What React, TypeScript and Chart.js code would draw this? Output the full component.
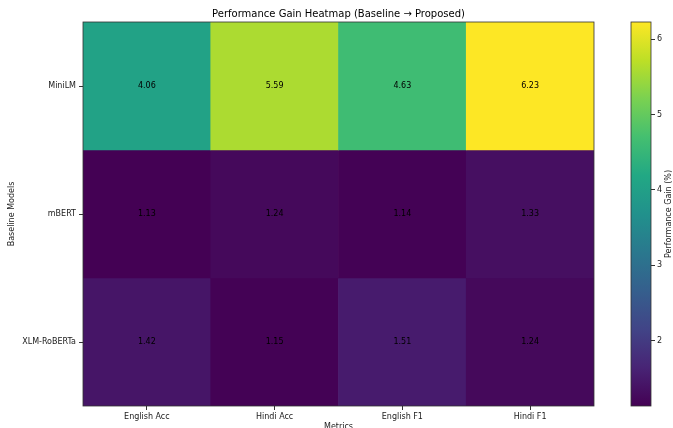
import React, { useEffect, useRef } from "react";
import { Chart, registerables } from "chart.js";

Chart.register(...registerables);

// Heatmap data: performance gain (%) per baseline model and metric
const metrics = ["English Acc", "Hindi Acc", "English F1", "Hindi F1"];
const models = ["MiniLM", "mBERT", "XLM-RoBERTa"];
const miniLMGain = [4.06, 5.59, 4.63, 6.23];
const mbertGain = [1.13, 1.24, 1.14, 1.33];
const xlmrGain = [1.42, 1.15, 1.51, 1.24];
const colorbarTicks = [2, 3, 4, 5, 6];

const gainRows = [miniLMGain, mbertGain, xlmrGain];
const allGains = gainRows.flat();
const vMin = Math.min(...allGains);
const vMax = Math.max(...allGains);

const FONT = "'DejaVu Sans', sans-serif";
const TEXT = "#1a1a1a";
const AXIS = "#333333";

// viridis colormap, 11 evenly spaced stops
const VIRIDIS = [
  "#440154", "#482475", "#414487", "#355f8d", "#2a788e", "#21918c",
  "#22a884", "#44bf70", "#7ad151", "#bddf26", "#fde725",
];

function hexToRgb(h: string): number[] {
  return [1, 3, 5].map((i) => parseInt(h.slice(i, i + 2), 16));
}

function viridis(t: number): string {
  const c = Math.max(0, Math.min(1, t)) * (VIRIDIS.length - 1);
  const i = Math.min(Math.floor(c), VIRIDIS.length - 2);
  const f = c - i;
  const a = hexToRgb(VIRIDIS[i]);
  const b = hexToRgb(VIRIDIS[i + 1]);
  const rgb = a.map((v, k) => Math.round(v + (b[k] - v) * f));
  return `rgb(${rgb[0]},${rgb[1]},${rgb[2]})`;
}

const colorOf = (v: number) => viridis((v - vMin) / (vMax - vMin));

// Outline around the plotting area
const framePlugin = {
  id: "frame",
  afterDatasetsDraw(chart: any) {
    const { ctx, chartArea: a } = chart;
    ctx.save();
    ctx.strokeStyle = AXIS;
    ctx.lineWidth = 0.8;
    ctx.strokeRect(a.left, a.top, a.right - a.left, a.bottom - a.top);
    ctx.restore();
  },
};

// Value text in the middle of each cell
const cellLabelPlugin = {
  id: "cellLabels",
  afterDatasetsDraw(chart: any) {
    const { ctx } = chart;
    ctx.save();
    ctx.font = `8px ${FONT}`;
    ctx.fillStyle = "#000";
    ctx.textAlign = "center";
    ctx.textBaseline = "middle";
    chart.data.datasets.forEach((ds: any, di: number) => {
      const meta = chart.getDatasetMeta(di);
      meta.data.forEach((el: any, i: number) => {
        const { x, y, base } = el.getProps(["x", "y", "base"], true);
        ctx.fillText(ds.gains[i].toFixed(2), x, (y + base) / 2);
      });
    });
    ctx.restore();
  },
};

// Colorbar label, rotated to read bottom-to-top
const colorbarLabelPlugin = {
  id: "cbLabel",
  afterDraw(chart: any) {
    const { ctx, chartArea: a } = chart;
    ctx.save();
    ctx.font = `8px ${FONT}`;
    ctx.fillStyle = TEXT;
    ctx.textAlign = "center";
    ctx.textBaseline = "middle";
    ctx.translate(68.5, (a.top + a.bottom) / 2);
    ctx.rotate(-Math.PI / 2);
    ctx.fillText("Performance Gain (%)", 0, 0);
    ctx.restore();
  },
};

const tickFont = { family: FONT, size: 8 };

export default function App() {
  const mainRef = useRef<HTMLCanvasElement>(null);
  const cbRef = useRef<HTMLCanvasElement>(null);

  useEffect(() => {
    const main = new Chart(mainRef.current as HTMLCanvasElement, {
      type: "bar",
      data: {
        labels: metrics,
        datasets: gainRows.map((row, r) => ({
          label: models[r],
          data: row.map(() => [r, r + 1]),
          gains: row,
          backgroundColor: row.map(colorOf),
          borderWidth: 0,
          barPercentage: 1,
          categoryPercentage: 1,
          grouped: false,
        })) as any,
      },
      options: {
        responsive: false,
        animation: false,
        events: [],
        layout: { padding: { top: 0, right: 79, bottom: 0, left: 0 } },
        plugins: {
          legend: { display: false },
          tooltip: { enabled: false },
          title: {
            display: true,
            text: "Performance Gain Heatmap (Baseline \u2192 Proposed)",
            font: { family: FONT, size: 10, weight: "normal" },
            color: "#000",
            padding: { top: 8, bottom: 2 },
            fullSize: false,
          } as any,
        },
        scales: {
          x: {
            type: "category",
            offset: true,
            grid: {
              offset: false,
              drawOnChartArea: false,
              drawTicks: true,
              tickLength: 4,
              color: AXIS,
            },
            border: { display: false },
            ticks: { font: tickFont, color: TEXT, padding: 2, maxRotation: 0, autoSkip: false },
            title: {
              display: true,
              text: "Metrics",
              font: tickFont,
              color: TEXT,
              padding: { top: 0, bottom: -4 },
            },
            afterFit(s: any) {
              s.height = 22;
            },
          },
          y: {
            type: "linear",
            min: 0,
            max: 3,
            reverse: true,
            afterBuildTicks(s: any) {
              s.ticks = models.map((_, i) => ({ value: i + 0.5 }));
            },
            grid: {
              drawOnChartArea: false,
              drawTicks: true,
              tickLength: 4,
              color: AXIS,
            },
            border: { display: false },
            ticks: {
              font: tickFont,
              color: TEXT,
              padding: 3,
              callback: (_v: any, i: number) => models[i],
            },
            title: {
              display: true,
              text: "Baseline Models",
              font: tickFont,
              color: TEXT,
              padding: { top: 7, bottom: 0 },
            },
            afterFit(s: any) {
              s.width = 83;
            },
          },
        },
      } as any,
      plugins: [framePlugin, cellLabelPlugin],
    });

    const cb = new Chart(cbRef.current as HTMLCanvasElement, {
      type: "bar",
      data: {
        labels: [""],
        datasets: [
          {
            data: [[vMin, vMax]] as any,
            backgroundColor: (c: any) => {
              const chart = c.chart;
              const y = chart.scales && chart.scales.y;
              if (!chart.chartArea || !y) return VIRIDIS[0];
              const g = chart.ctx.createLinearGradient(
                0,
                y.getPixelForValue(vMin),
                0,
                y.getPixelForValue(vMax)
              );
              VIRIDIS.forEach((col, i) => g.addColorStop(i / (VIRIDIS.length - 1), col));
              return g;
            },
            borderWidth: 0,
            barPercentage: 1,
            categoryPercentage: 1,
          },
        ],
      },
      options: {
        responsive: false,
        animation: false,
        events: [],
        layout: { padding: { top: 22, bottom: 22, left: 31, right: 0 } },
        plugins: { legend: { display: false }, tooltip: { enabled: false } },
        scales: {
          x: { display: false },
          y: {
            position: "right",
            min: vMin,
            max: vMax,
            afterBuildTicks(s: any) {
              s.ticks = colorbarTicks.map((v) => ({ value: v }));
            },
            grid: { drawOnChartArea: false, drawTicks: true, tickLength: 4, color: AXIS },
            border: { display: false },
            ticks: { font: tickFont, color: TEXT, padding: 2 },
            afterFit(s: any) {
              s.width = 22;
            },
          },
        },
      } as any,
      plugins: [framePlugin, colorbarLabelPlugin],
    });

    return () => {
      main.destroy();
      cb.destroy();
    };
  }, []);

  return (
    <div
      style={{
        position: "fixed",
        left: 0,
        top: 0,
        width: 673,
        height: 428,
        background: "#fff",
        overflow: "hidden",
      }}
    >
      <canvas
        ref={mainRef}
        width={673}
        height={428}
        style={{ position: "absolute", left: 0, top: 0, width: 673, height: 428 }}
      />
      <canvas
        ref={cbRef}
        width={73}
        height={428}
        style={{ position: "absolute", left: 600, top: 0, width: 73, height: 428 }}
      />
    </div>
  );
}
